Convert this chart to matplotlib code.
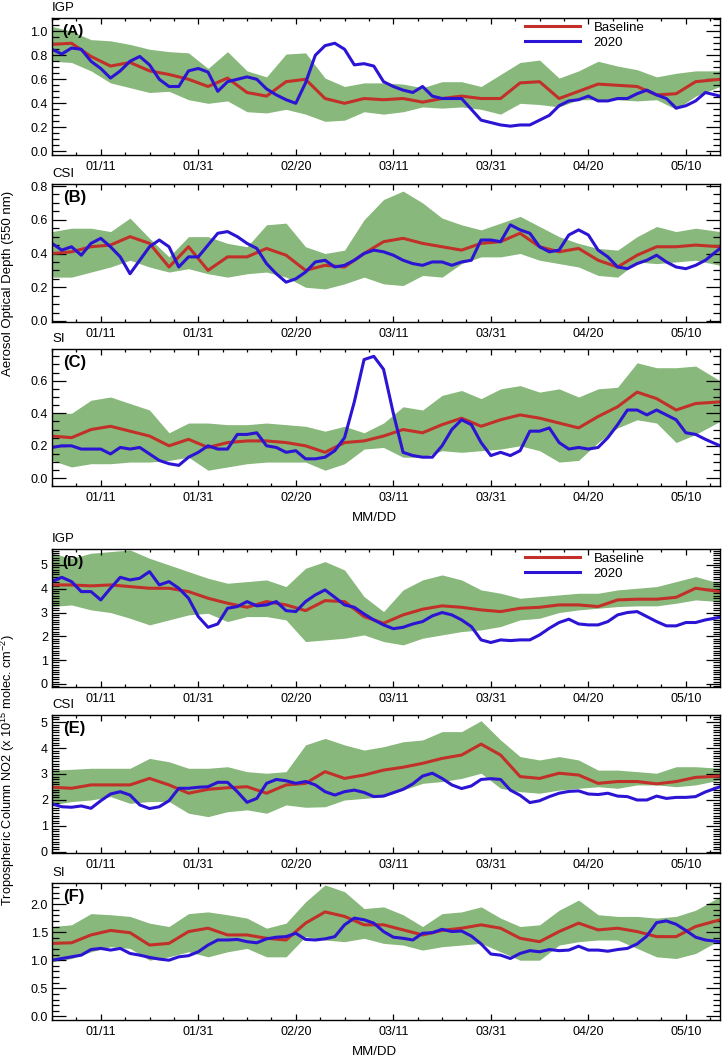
import matplotlib.pyplot as plt
from matplotlib.ticker import MultipleLocator, FixedLocator, FormatStrFormatter
import numpy as np

plt.rcParams['font.family'] = ['Liberation Sans', 'DejaVu Sans']
plt.rcParams['mathtext.fontset'] = 'custom'
plt.rcParams['mathtext.rm'] = 'Liberation Sans'

# day of year 2020 (1 = Jan 1)
days = list(range(1, 137, 4)) + [138]
days_2020 = list(range(1, 137, 2)) + [138]
date_ticks = [11, 31, 51, 71, 91, 111, 131]
date_labels = ['01/11', '01/31', '02/20', '03/11', '03/31', '04/20', '05/10']

# ---- AOD, IGP (A)
aod_igp_hi = [1.04, 1.00, 0.93, 0.92, 0.89, 0.85, 0.83, 0.82, 0.69, 0.83, 0.67, 0.62, 0.81, 0.82, 0.61, 0.54,
              0.57, 0.57, 0.56, 0.53, 0.58, 0.58, 0.54, 0.64, 0.74, 0.76, 0.61, 0.67, 0.75, 0.71, 0.68, 0.62, 0.65, 0.67, 0.67]
aod_igp_lo = [0.75, 0.74, 0.67, 0.57, 0.53, 0.49, 0.50, 0.43, 0.40, 0.42, 0.33, 0.32, 0.35, 0.31, 0.25, 0.26,
              0.33, 0.31, 0.33, 0.37, 0.36, 0.37, 0.35, 0.31, 0.40, 0.39, 0.37, 0.43, 0.43, 0.43, 0.42, 0.43, 0.35, 0.46, 0.54]
aod_igp_base = [0.89, 0.90, 0.79, 0.71, 0.74, 0.67, 0.64, 0.60, 0.54, 0.61, 0.49, 0.46, 0.58, 0.60, 0.44, 0.40,
                0.44, 0.43, 0.44, 0.41, 0.44, 0.46, 0.44, 0.44, 0.57, 0.58, 0.44, 0.50, 0.56, 0.55, 0.54, 0.47, 0.48, 0.58, 0.60]
aod_igp_2020 = [0.85, 0.81, 0.86, 0.85, 0.75, 0.69, 0.61, 0.67, 0.75, 0.79, 0.72, 0.60, 0.54, 0.54, 0.67, 0.69,
                0.66, 0.50, 0.58, 0.60, 0.62, 0.60, 0.52, 0.47, 0.43, 0.40, 0.57, 0.80, 0.88, 0.90, 0.85, 0.72,
                0.73, 0.71, 0.58, 0.54, 0.51, 0.49, 0.54, 0.46, 0.44, 0.44, 0.44, 0.35, 0.26, 0.24, 0.22, 0.21,
                0.22, 0.22, 0.26, 0.30, 0.38, 0.42, 0.43, 0.46, 0.42, 0.42, 0.44, 0.44, 0.48, 0.51, 0.47, 0.44,
                0.36, 0.38, 0.42, 0.49, 0.46]

# ---- AOD, CSI (B)
aod_csi_hi = [0.53, 0.55, 0.55, 0.53, 0.61, 0.49, 0.38, 0.50, 0.50, 0.46, 0.44, 0.57, 0.58, 0.44, 0.40, 0.42,
              0.60, 0.72, 0.77, 0.70, 0.61, 0.57, 0.54, 0.58, 0.62, 0.56, 0.50, 0.46, 0.43, 0.42, 0.50, 0.56, 0.53, 0.55, 0.53]
aod_csi_lo = [0.26, 0.26, 0.29, 0.32, 0.36, 0.32, 0.29, 0.31, 0.28, 0.26, 0.28, 0.29, 0.26, 0.20, 0.19, 0.22,
              0.26, 0.22, 0.21, 0.27, 0.26, 0.34, 0.38, 0.38, 0.40, 0.36, 0.34, 0.32, 0.27, 0.26, 0.35, 0.34, 0.35, 0.36, 0.33]
aod_csi_base = [0.40, 0.41, 0.44, 0.45, 0.50, 0.46, 0.32, 0.44, 0.30, 0.38, 0.38, 0.43, 0.39, 0.30, 0.33, 0.32,
                0.40, 0.47, 0.49, 0.46, 0.44, 0.42, 0.46, 0.47, 0.52, 0.44, 0.41, 0.43, 0.36, 0.32, 0.39, 0.44, 0.44, 0.45, 0.44]
aod_csi_2020 = [0.46, 0.42, 0.44, 0.39, 0.46, 0.49, 0.44, 0.38, 0.28, 0.36, 0.44, 0.48, 0.44, 0.32, 0.38, 0.38,
                0.45, 0.52, 0.53, 0.50, 0.46, 0.43, 0.34, 0.28, 0.23, 0.25, 0.29, 0.35, 0.36, 0.32, 0.33, 0.36,
                0.40, 0.42, 0.41, 0.39, 0.36, 0.34, 0.33, 0.35, 0.35, 0.33, 0.35, 0.36, 0.48, 0.48, 0.47, 0.57,
                0.54, 0.52, 0.44, 0.41, 0.42, 0.51, 0.54, 0.51, 0.42, 0.38, 0.32, 0.31, 0.34, 0.36, 0.39, 0.35,
                0.32, 0.31, 0.33, 0.36, 0.43]

# ---- AOD, SI (C)
aod_si_hi = [0.40, 0.40, 0.48, 0.50, 0.46, 0.42, 0.28, 0.34, 0.34, 0.33, 0.33, 0.34, 0.33, 0.32, 0.29, 0.32,
             0.28, 0.34, 0.44, 0.42, 0.51, 0.54, 0.49, 0.55, 0.57, 0.53, 0.55, 0.50, 0.55, 0.56, 0.71, 0.68, 0.68, 0.69, 0.60]
aod_si_lo = [0.11, 0.07, 0.09, 0.09, 0.10, 0.10, 0.11, 0.13, 0.05, 0.07, 0.09, 0.10, 0.10, 0.10, 0.05, 0.09,
             0.18, 0.19, 0.13, 0.13, 0.17, 0.16, 0.17, 0.18, 0.20, 0.17, 0.10, 0.11, 0.22, 0.31, 0.36, 0.34, 0.22, 0.27, 0.35]
aod_si_base = [0.26, 0.25, 0.30, 0.32, 0.29, 0.26, 0.20, 0.24, 0.19, 0.22, 0.23, 0.23, 0.22, 0.20, 0.16, 0.22,
               0.23, 0.26, 0.30, 0.28, 0.33, 0.37, 0.32, 0.36, 0.39, 0.37, 0.34, 0.31, 0.38, 0.44, 0.53, 0.49, 0.42, 0.46, 0.47]
aod_si_2020 = [0.19, 0.20, 0.20, 0.18, 0.18, 0.18, 0.15, 0.19, 0.18, 0.19, 0.15, 0.11, 0.09, 0.08, 0.13, 0.16,
               0.20, 0.18, 0.18, 0.27, 0.27, 0.28, 0.20, 0.19, 0.16, 0.17, 0.12, 0.12, 0.13, 0.17, 0.25, 0.47,
               0.73, 0.75, 0.67, 0.40, 0.16, 0.14, 0.13, 0.13, 0.20, 0.30, 0.36, 0.33, 0.22, 0.14, 0.16, 0.14,
               0.17, 0.29, 0.29, 0.31, 0.22, 0.18, 0.19, 0.18, 0.19, 0.25, 0.33, 0.42, 0.42, 0.39, 0.42, 0.39,
               0.36, 0.28, 0.27, 0.24, 0.20]

# ---- NO2, IGP (D)
no2_igp_hi = [5.49, 5.28, 5.49, 5.56, 5.63, 5.28, 5.00, 4.72, 4.44, 4.23, 4.30, 4.37, 4.09, 4.86, 5.14, 4.79,
              3.67, 3.04, 3.95, 4.37, 4.58, 4.37, 3.95, 3.81, 3.60, 3.67, 3.74, 3.81, 3.81, 3.95, 4.02, 4.09, 4.30, 4.51, 4.23]
no2_igp_lo = [3.25, 3.32, 3.11, 3.00, 2.76, 2.48, 2.69, 2.90, 2.97, 2.62, 2.83, 2.83, 2.69, 1.78, 1.85, 1.92,
              2.06, 1.78, 1.64, 1.92, 2.06, 2.20, 2.27, 2.41, 2.69, 2.76, 3.00, 3.11, 3.18, 3.25, 3.28, 3.28, 3.39, 3.53, 3.46]
no2_igp_base = [4.16, 4.16, 4.12, 4.16, 4.09, 4.02, 4.02, 3.88, 3.60, 3.39, 3.22, 3.46, 3.32, 3.08, 3.50, 3.46,
                2.83, 2.55, 2.90, 3.14, 3.28, 3.22, 3.11, 3.04, 3.18, 3.22, 3.32, 3.32, 3.25, 3.53, 3.56, 3.56, 3.64, 4.02, 3.88]
no2_igp_2020 = [4.30, 4.48, 4.30, 3.88, 3.88, 3.53, 4.02, 4.48, 4.37, 4.44, 4.72, 4.16, 4.30, 4.02, 3.60, 2.83,
                2.38, 2.52, 3.18, 3.25, 3.46, 3.28, 3.32, 3.46, 3.08, 3.04, 3.46, 3.74, 3.95, 3.64, 3.32, 3.22,
                2.94, 2.69, 2.48, 2.32, 2.38, 2.52, 2.62, 2.86, 3.00, 2.90, 2.69, 2.41, 1.85, 1.74, 1.85, 1.82,
                1.85, 1.85, 2.06, 2.34, 2.58, 2.72, 2.52, 2.48, 2.48, 2.62, 2.90, 3.00, 3.04, 2.83, 2.62, 2.44,
                2.44, 2.58, 2.58, 2.69, 2.80]

# ---- NO2, CSI (E)
no2_csi_hi = [3.15, 3.18, 3.22, 3.22, 3.22, 3.60, 3.47, 3.22, 3.22, 3.28, 3.09, 3.03, 3.09, 4.12, 4.37, 4.12,
              3.92, 4.05, 4.24, 4.31, 4.63, 4.63, 5.05, 4.31, 3.67, 3.54, 3.67, 3.54, 3.15, 3.15, 3.09, 3.03, 3.28, 3.28, 3.22]
no2_csi_lo = [1.81, 1.94, 2.00, 2.13, 1.87, 1.94, 1.94, 1.49, 1.36, 1.55, 1.62, 1.49, 1.81, 1.72, 1.74, 2.00,
              2.06, 2.13, 2.38, 2.64, 2.71, 2.83, 3.03, 2.45, 2.32, 2.26, 2.38, 2.45, 2.51, 2.45, 2.58, 2.58, 2.51, 2.58, 2.77]
no2_csi_base = [2.49, 2.45, 2.58, 2.58, 2.58, 2.83, 2.58, 2.26, 2.41, 2.47, 2.51, 2.26, 2.58, 2.64, 3.09, 2.83,
                2.96, 3.15, 3.26, 3.41, 3.60, 3.73, 4.15, 3.73, 2.90, 2.83, 3.03, 2.96, 2.64, 2.71, 2.71, 2.62, 2.71, 2.87, 2.92]
no2_csi_2020 = [1.85, 1.74, 1.72, 1.77, 1.68, 1.97, 2.23, 2.32, 2.19, 1.81, 1.67, 1.74, 1.97, 2.45, 2.45, 2.49,
                2.51, 2.68, 2.68, 2.32, 1.91, 2.06, 2.64, 2.79, 2.74, 2.64, 2.71, 2.58, 2.32, 2.19, 2.32, 2.38,
                2.29, 2.13, 2.15, 2.28, 2.41, 2.62, 2.92, 3.03, 2.83, 2.58, 2.44, 2.54, 2.79, 2.82, 2.79, 2.38,
                2.18, 1.90, 1.97, 2.13, 2.26, 2.33, 2.35, 2.23, 2.21, 2.26, 2.15, 2.13, 2.00, 2.00, 2.15, 2.06,
                2.10, 2.10, 2.13, 2.31, 2.51]

# ---- NO2, SI (F)
no2_si_hi = [1.60, 1.63, 1.83, 1.81, 1.78, 1.66, 1.60, 1.83, 1.86, 1.81, 1.75, 1.57, 1.66, 2.04, 2.34, 2.22,
             1.92, 1.95, 1.81, 1.60, 1.83, 1.86, 1.95, 1.75, 1.60, 1.63, 1.89, 2.07, 1.81, 1.78, 1.78, 1.75, 1.78, 1.89, 2.13]
no2_si_lo = [0.97, 1.03, 1.15, 1.24, 1.21, 1.00, 1.06, 1.15, 1.06, 1.15, 1.21, 1.06, 1.06, 1.42, 1.36, 1.33,
             1.39, 1.30, 1.27, 1.18, 1.24, 1.27, 1.30, 1.15, 1.00, 1.00, 1.27, 1.33, 1.36, 1.36, 1.21, 1.06, 1.03, 1.12, 1.36]
no2_si_base = [1.30, 1.31, 1.45, 1.53, 1.49, 1.27, 1.30, 1.51, 1.57, 1.45, 1.45, 1.39, 1.36, 1.66, 1.86, 1.78,
               1.63, 1.63, 1.54, 1.45, 1.53, 1.57, 1.63, 1.57, 1.39, 1.33, 1.51, 1.66, 1.54, 1.57, 1.51, 1.42, 1.42, 1.60, 1.72]
no2_si_2020 = [1.00, 1.03, 1.06, 1.09, 1.19, 1.21, 1.18, 1.21, 1.12, 1.09, 1.05, 1.02, 1.00, 1.06, 1.08, 1.15,
               1.27, 1.36, 1.36, 1.37, 1.33, 1.31, 1.38, 1.41, 1.42, 1.48, 1.37, 1.36, 1.38, 1.42, 1.63, 1.75,
               1.72, 1.66, 1.51, 1.41, 1.39, 1.36, 1.48, 1.49, 1.55, 1.51, 1.52, 1.43, 1.29, 1.11, 1.09, 1.03,
               1.12, 1.17, 1.15, 1.19, 1.17, 1.18, 1.25, 1.18, 1.18, 1.16, 1.19, 1.21, 1.29, 1.43, 1.67, 1.70,
               1.64, 1.53, 1.41, 1.36, 1.33]

GREEN = '#88b87b'
RED = '#c2302a'
BLUE = '#2c14d4'

# (region, letter, band hi, band lo, baseline, 2020, ylim, major, minor, fmt, top px, bottom px)
panels = [
    ('IGP', '(A)', aod_igp_hi, aod_igp_lo, aod_igp_base, aod_igp_2020, (-0.03, 1.11), 0.2, 0.05, '%.1f', 18, 155),
    ('CSI', '(B)', aod_csi_hi, aod_csi_lo, aod_csi_base, aod_csi_2020, (-0.006, 0.812), 0.2, 0.05, '%.1f', 184, 322),
    ('SI', '(C)', aod_si_hi, aod_si_lo, aod_si_base, aod_si_2020, (-0.047, 0.795), 0.2, 0.05, '%.1f', 349, 486),
    ('IGP', '(D)', no2_igp_hi, no2_igp_lo, no2_igp_base, no2_igp_2020, (-0.13, 5.67), 1, 0.1, '%d', 549, 687),
    ('CSI', '(E)', no2_csi_hi, no2_csi_lo, no2_csi_base, no2_csi_2020, (-0.04, 5.27), 1, 0.1, '%d', 715, 853),
    ('SI', '(F)', no2_si_hi, no2_si_lo, no2_si_base, no2_si_2020, (-0.065, 2.375), 0.5, 0.1, '%.1f', 883, 1020),
]

W, H = 725, 1057
fig = plt.figure(figsize=(W / 100, H / 100), dpi=100)

for i, (region, letter, hi, lo, base, y2020, ylim, major, minor, fmt, top, bot) in enumerate(panels):
    ax = fig.add_axes([52 / W, 1 - bot / H, 668 / W, (bot - top) / H])
    ax.fill_between(days, lo, hi, color=GREEN, linewidth=0)
    ax.plot(days, base, color=RED, lw=2.2, label='Baseline')
    ax.plot(days_2020, y2020, color=BLUE, lw=2.2, label='2020')

    ax.set_xlim(1, 138)
    ax.set_ylim(*ylim)
    ax.xaxis.set_major_locator(FixedLocator(date_ticks))
    ax.xaxis.set_minor_locator(FixedLocator(np.arange(1, 139, 5)))
    ax.set_xticklabels(date_labels)
    ax.yaxis.set_major_locator(MultipleLocator(major))
    ax.yaxis.set_minor_locator(MultipleLocator(minor))
    ax.yaxis.set_major_formatter(FormatStrFormatter(fmt))

    ax.tick_params(axis='both', which='both', direction='in', top=True, right=True,
                   labelsize=9, width=0.9)
    ax.tick_params(axis='x', which='major', length=4, pad=4)
    ax.tick_params(axis='x', which='minor', length=2)
    ax.tick_params(axis='y', which='major', length=10, pad=3)
    ax.tick_params(axis='y', which='minor', length=5)
    for s in ax.spines.values():
        s.set_linewidth(1.0)

    ax.annotate(region, xy=(0, 1), xycoords='axes fraction', xytext=(0, 7.5),
                textcoords='offset points', ha='left', va='center', fontsize=9.5)
    ax.text(0.016, 0.905, letter, transform=ax.transAxes, ha='left', va='center',
            fontsize=11 if i in (0, 3) else 12, fontweight='bold')

    if i in (0, 3):
        ax.legend(loc='upper left', bbox_to_anchor=(0.708, 0.975), frameon=False,
                  handlelength=4.2, handletextpad=1.0, labelspacing=0.2,
                  borderpad=0, borderaxespad=0, fontsize=9.5)
    if i in (2, 5):
        ax.annotate('MM/DD', xy=(0.482, 0), xycoords='axes fraction', xytext=(0, -23),
                    textcoords='offset points', ha='center', va='center', fontsize=9.5)

fig.text(8 / W, 1 - 283 / H, 'Aerosol Optical Depth (550 nm)', rotation=90,
         ha='center', va='center', fontsize=9.5)
fig.text(8 / W, 1 - 770 / H, 'Tropospheric Column NO2 (x 10$^{15}$ molec. cm$^{-2}$)',
         rotation=90, ha='center', va='center', fontsize=9.2)

fig.savefig('out.png', dpi=100)
